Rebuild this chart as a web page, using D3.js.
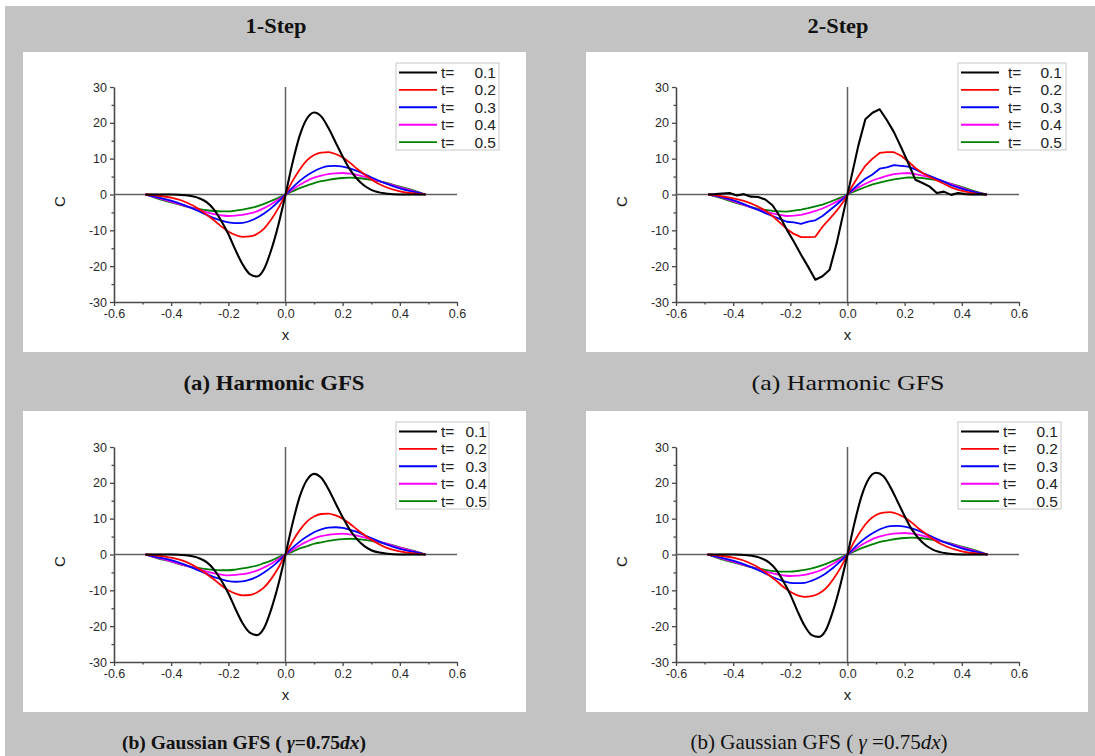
<!DOCTYPE html>
<html>
<head>
<meta charset="utf-8">
<script src="https://cdn.jsdelivr.net/npm/d3@7"></script>
<style>
  body { margin: 0; background: #ffffff; }
  svg { display: block; }
</style>
</head>
<body>
<svg id="fig" width="1095" height="756"></svg>
<script>
// ---- sample positions ----
// smooth profiles (1-step solutions and 2-step Gaussian)
const xSmooth = [-0.49, -0.45, -0.4, -0.35, -0.3, -0.275, -0.25, -0.225, -0.2, -0.175, -0.15, -0.125, -0.1, -0.075, -0.05, -0.025, 0,
                 0.025, 0.05, 0.075, 0.1, 0.125, 0.15, 0.175, 0.2, 0.225, 0.25, 0.275, 0.3, 0.35, 0.4, 0.45, 0.49];
// cell-centred grid of the 2-step harmonic run (dx = 0.025)
const xCells = [-0.4875, -0.4625, -0.4375, -0.4125, -0.3875, -0.3625, -0.3375, -0.3125, -0.2875, -0.2625,
                -0.2375, -0.2125, -0.1875, -0.1625, -0.1375, -0.1125, -0.0875, -0.0625, -0.0375, -0.0125,
                 0.0125, 0.0375, 0.0625, 0.0875, 0.1125, 0.1375, 0.1625, 0.1875, 0.2125, 0.2375,
                 0.2625, 0.2875, 0.3125, 0.3375, 0.3625, 0.3875, 0.4125, 0.4375, 0.4625, 0.4875];

// ---- (a) Harmonic GFS, 1-step ----
const harm1_t01 = [0, 0, 0, -0.2, -1.1, -2.2, -4.2, -7.3, -11.0, -15.5, -19.5, -22.2, -22.9, -20.8, -15.5, -8.5, 0,
                   9.0, 16.5, 21.2, 22.9, 21.8, 18.6, 14.6, 10.6, 7.0, 4.4, 2.5, 1.3, 0.3, 0, 0, 0];
const harm1_t02 = [0, -0.3, -0.9, -2.1, -4.2, -5.7, -7.2, -8.9, -10.3, -11.3, -11.8, -11.7, -11.0, -9.5, -7.0, -3.8, 0,
                   3.8, 7.0, 9.5, 11.0, 11.7, 11.8, 11.3, 10.3, 8.9, 7.2, 5.7, 4.2, 2.1, 0.9, 0.3, 0];
const harm1_t03 = [0, -0.7, -1.7, -3.1, -4.8, -5.7, -6.6, -7.3, -7.8, -8.0, -7.9, -7.4, -6.5, -5.3, -3.8, -2.0, 0,
                   2.0, 3.8, 5.3, 6.5, 7.4, 7.9, 8.0, 7.8, 7.3, 6.6, 5.7, 4.8, 3.1, 1.7, 0.7, 0];
const harm1_t04 = [0, -0.9, -2.0, -3.2, -4.4, -5.0, -5.5, -5.8, -6.0, -5.9, -5.7, -5.3, -4.7, -3.8, -2.7, -1.4, 0,
                   1.4, 2.7, 3.8, 4.7, 5.3, 5.7, 5.9, 6.0, 5.8, 5.5, 5.0, 4.4, 3.2, 2.0, 0.9, 0];
const harm1_t05 = [0, -1.1, -2.2, -3.3, -4.1, -4.4, -4.6, -4.7, -4.7, -4.5, -4.2, -3.8, -3.3, -2.6, -1.8, -0.9, 0,
                   0.9, 1.8, 2.5, 3.2, 3.7, 4.1, 4.4, 4.6, 4.7, 4.6, 4.4, 4.1, 3.3, 2.2, 1.1, 0];

// ---- (a) Harmonic GFS, 2-step ----
const harm2_t01 = [0, 0.1, 0.3, 0.4, -0.3, 0.1, -0.6, -0.7, -1.4, -3.0,
                   -6.0, -9.8, -13.2, -16.8, -20.2, -23.8, -22.8, -21.0, -13.5, -4.5,
                   4.5, 13.5, 21.0, 22.8, 23.8, 20.8, 17.4, 13.2, 8.8, 4.1,
                   3.2, 2.2, 0.4, 0.8, -0.1, 0.4, 0.1, 0.0, 0.1, 0];
const harm2_t02 = [0, -0.2, -0.5, -0.9, -1.3, -1.8, -2.5, -3.4, -4.5, -6.0,
                   -7.8, -9.6, -11.0, -11.9, -11.9, -11.8, -9.0, -6.8, -4.5, -1.8,
                   1.8, 5.0, 8.0, 10.0, 11.6, 11.8, 11.8, 10.8, 9.2, 7.4,
                   6.0, 4.9, 3.9, 3.0, 2.0, 1.3, 0.8, 0.4, 0.1, 0];
const harm2_t03 = [0, -0.3, -0.8, -1.3, -1.9, -2.7, -3.5, -4.3, -5.2, -6.0,
                   -6.8, -7.6, -7.8, -8.2, -7.6, -7.2, -6.0, -4.4, -2.8, -1.0,
                   1.0, 2.8, 4.4, 5.6, 7.2, 7.6, 8.2, 8.0, 7.8, 7.0,
                   6.0, 5.2, 4.4, 3.6, 2.6, 1.9, 1.3, 0.8, 0.3, 0];
const harm2_t04 = [0, -0.4, -0.9, -1.5, -2.2, -2.9, -3.6, -4.2, -4.8, -5.3,
                   -5.7, -6.0, -5.9, -5.7, -5.2, -4.6, -3.9, -3.0, -2.0, -0.8,
                   0.8, 2.0, 3.0, 3.9, 4.6, 5.2, 5.7, 5.9, 6.0, 5.7,
                   5.3, 4.8, 4.2, 3.6, 2.9, 2.2, 1.5, 0.9, 0.4, 0];
const harm2_t05 = [0, -0.5, -1.1, -1.8, -2.4, -3.0, -3.5, -4.0, -4.3, -4.6,
                   -4.7, -4.8, -4.5, -4.2, -3.8, -3.3, -2.8, -2.1, -1.3, -0.5,
                   0.5, 1.3, 2.1, 2.8, 3.3, 3.8, 4.2, 4.5, 4.8, 4.7,
                   4.6, 4.3, 4.0, 3.5, 3.0, 2.4, 1.8, 1.1, 0.5, 0];

// ---- (b) Gaussian GFS, 1-step ----
const gauss1_t01 = [0, 0, 0, -0.2, -1.1, -2.2, -4.2, -7.2, -10.8, -15.2, -19.2, -21.8, -22.5, -20.5, -15.3, -8.4, 0,
                    8.8, 16.2, 20.8, 22.5, 21.4, 18.3, 14.3, 10.4, 6.9, 4.3, 2.4, 1.2, 0.3, 0, 0, 0];
const gauss1_t02 = [0, -0.3, -0.9, -2.0, -4.1, -5.5, -7.0, -8.6, -10.0, -10.9, -11.4, -11.3, -10.6, -9.2, -6.8, -3.7, 0,
                    3.7, 6.8, 9.2, 10.6, 11.3, 11.4, 10.9, 10.0, 8.6, 7.0, 5.5, 4.1, 2.0, 0.9, 0.3, 0];
const gauss1_t03 = [0, -0.7, -1.6, -2.9, -4.6, -5.4, -6.3, -6.9, -7.4, -7.6, -7.5, -7.0, -6.2, -5.0, -3.6, -1.9, 0,
                    1.9, 3.6, 5.0, 6.2, 7.0, 7.5, 7.6, 7.4, 6.9, 6.3, 5.4, 4.6, 2.9, 1.6, 0.7, 0];
const gauss1_t04 = [0, -0.9, -1.9, -3.1, -4.2, -4.8, -5.3, -5.6, -5.8, -5.7, -5.5, -5.1, -4.5, -3.6, -2.6, -1.3, 0,
                    1.3, 2.6, 3.6, 4.5, 5.1, 5.5, 5.7, 5.8, 5.6, 5.3, 4.8, 4.2, 3.1, 1.9, 0.9, 0];
const gauss1_t05 = [0, -1.0, -2.0, -3.1, -3.8, -4.1, -4.3, -4.4, -4.4, -4.2, -3.9, -3.5, -3.1, -2.4, -1.7, -0.8, 0,
                    0.8, 1.7, 2.3, 3.0, 3.4, 3.8, 4.1, 4.3, 4.4, 4.3, 4.1, 3.8, 3.1, 2.0, 1.0, 0];

// ---- (b) Gaussian GFS, 2-step ----
const gauss2_t01 = [0, 0, 0, -0.2, -1.1, -2.2, -4.2, -7.4, -11.2, -15.8, -19.9, -22.5, -23.0, -21.0, -15.6, -8.5, 0,
                    9.0, 16.5, 21.2, 22.8, 21.9, 18.8, 14.8, 10.7, 7.0, 4.4, 2.5, 1.3, 0.3, 0, 0, 0];
const gauss2_t02 = [0, -0.3, -0.9, -2.1, -4.2, -5.7, -7.3, -9.0, -10.4, -11.4, -11.8, -11.6, -10.9, -9.4, -6.9, -3.8, 0,
                    3.8, 7.0, 9.5, 11.0, 11.7, 11.8, 11.3, 10.3, 8.9, 7.2, 5.7, 4.2, 2.1, 0.9, 0.3, 0];
const gauss2_t03 = [0, -0.7, -1.7, -3.1, -4.8, -5.8, -6.7, -7.4, -7.9, -8.0, -7.9, -7.3, -6.4, -5.2, -3.7, -1.9, 0,
                    2.0, 3.8, 5.3, 6.5, 7.4, 7.9, 8.0, 7.8, 7.3, 6.6, 5.7, 4.8, 3.1, 1.7, 0.7, 0];
const gauss2_t04 = [0, -0.9, -2.0, -3.2, -4.4, -5.0, -5.5, -5.8, -6.0, -5.9, -5.7, -5.2, -4.6, -3.7, -2.6, -1.4, 0,
                    1.4, 2.7, 3.8, 4.7, 5.3, 5.7, 5.9, 6.0, 5.8, 5.5, 5.0, 4.4, 3.2, 2.0, 0.9, 0];
const gauss2_t05 = [0, -1.1, -2.2, -3.3, -4.1, -4.5, -4.7, -4.8, -4.8, -4.6, -4.3, -3.9, -3.3, -2.6, -1.8, -0.9, 0,
                    0.9, 1.8, 2.5, 3.2, 3.7, 4.1, 4.4, 4.6, 4.7, 4.6, 4.4, 4.1, 3.3, 2.2, 1.1, 0];

// ---- labels, ticks, colours ----
const timeLabels = ["0.1", "0.2", "0.3", "0.4", "0.5"];
const seriesColors = ["#000000", "#ff0000", "#0000ff", "#ff00ff", "#008000"];
const xTicks = [-0.6, -0.4, -0.2, 0.0, 0.2, 0.4, 0.6];
const xMinorTicks = [-0.5, -0.3, -0.1, 0.1, 0.3, 0.5];
const yTicks = [-30, -20, -10, 0, 10, 20, 30];
const yMinorTicks = [-25, -15, -5, 5, 15, 25];
const columnTitles = ["1-Step", "2-Step"];
const xLabel = "x";
const yLabel = "C";

// ---- panel layout ----
const panels = [
  { box: [23, 52, 503, 300],  plot: [114, 87, 457, 302],  x: xSmooth, ys: [harm1_t01, harm1_t02, harm1_t03, harm1_t04, harm1_t05], smooth: true,
    legend: { right: 385, tx: 327, vx: 382 } },
  { box: [586, 52, 502, 300], plot: [676, 87, 1019, 302], x: xCells,  ys: [harm2_t01, harm2_t02, harm2_t03, harm2_t04, harm2_t05], smooth: false,
    legend: { right: 390, tx: 332, vx: 386 } },
  { box: [23, 411, 503, 301], plot: [114, 447, 457, 662], x: xSmooth, ys: [gauss1_t01, gauss1_t02, gauss1_t03, gauss1_t04, gauss1_t05], smooth: true,
    legend: { right: 375, tx: 327, vx: 373 } },
  { box: [586, 411, 502, 301], plot: [676, 447, 1019, 662], x: xSmooth, ys: [gauss2_t01, gauss2_t02, gauss2_t03, gauss2_t04, gauss2_t05], smooth: true,
    legend: { right: 385, tx: 327, vx: 382 } }
];

const svg = d3.select("#fig");
const SANS = "'Liberation Sans', Arial, sans-serif";
const SERIF = "'Liberation Serif', 'Times New Roman', serif";

// grey page with a thin white margin at top and left
svg.append("rect").attr("x", 0).attr("y", 0).attr("width", 1095).attr("height", 756).attr("fill", "#ffffff");
svg.append("rect").attr("x", 5).attr("y", 6).attr("width", 1090).attr("height", 750).attr("fill", "#c3c3c3");

panels.forEach(p => {
  const [bx, by, bw, bh] = p.box;
  const [px0, py0, px1, py1] = p.plot;
  svg.append("rect").attr("x", bx).attr("y", by).attr("width", bw).attr("height", bh).attr("fill", "#ffffff");

  const xs = d3.scaleLinear().domain([-0.6, 0.6]).range([px0, px1]);
  const ys = d3.scaleLinear().domain([-30, 30]).range([py1, py0]);
  const g = svg.append("g");

  // bottom axis
  const xAxis = d3.axisBottom(xs).tickValues(xTicks).tickSize(4).tickSizeOuter(0).tickPadding(3)
    .tickFormat(d => d.toFixed(1));
  g.append("g").attr("transform", `translate(0,${py1})`).call(xAxis);
  g.append("g").attr("transform", `translate(0,${py1})`)
    .call(d3.axisBottom(xs).tickValues(xMinorTicks).tickSize(2.5).tickSizeOuter(0).tickFormat(""))
    .select(".domain").remove();

  // left axis
  const yAxis = d3.axisLeft(ys).tickValues(yTicks).tickSize(4).tickSizeOuter(0).tickPadding(3)
    .tickFormat(d => String(d));
  g.append("g").attr("transform", `translate(${px0},0)`).call(yAxis);
  g.append("g").attr("transform", `translate(${px0},0)`)
    .call(d3.axisLeft(ys).tickValues(yMinorTicks).tickSize(2.5).tickSizeOuter(0).tickFormat(""))
    .select(".domain").remove();

  g.selectAll(".domain").attr("stroke", "#4a4a4a").attr("stroke-width", 1.6);
  g.selectAll(".tick line").attr("stroke", "#4a4a4a").attr("stroke-width", 1.3);
  g.selectAll(".tick text").attr("fill", "#2a2a2a").style("font-family", SANS).style("font-size", "12.5px");

  // zero lines
  g.append("line").attr("x1", xs(-0.6)).attr("x2", xs(0.6)).attr("y1", ys(0)).attr("y2", ys(0))
    .attr("stroke", "#606060").attr("stroke-width", 1.5);
  g.append("line").attr("x1", xs(0)).attr("x2", xs(0)).attr("y1", ys(-30)).attr("y2", ys(30))
    .attr("stroke", "#606060").attr("stroke-width", 1.5);

  // axis titles
  g.append("text").attr("x", xs(0)).attr("y", py1 + 38).attr("text-anchor", "middle")
    .style("font-family", SANS).style("font-size", "15px").attr("fill", "#222").text(xLabel);
  g.append("text").attr("transform", `translate(${px0 - 49},${ys(0) + 7}) rotate(-90)`).attr("text-anchor", "middle")
    .style("font-family", SANS).style("font-size", "15px").attr("fill", "#222").text(yLabel);

  // curves, drawn from t=0.5 up to t=0.1 so the sharp profile sits on top
  const line = d3.line()
    .x((d, i) => xs(p.x[i]))
    .y(d => ys(d))
    .curve(p.smooth ? d3.curveMonotoneX : d3.curveLinear);
  for (let k = p.ys.length - 1; k >= 0; k--) {
    g.append("path").datum(p.ys[k]).attr("d", line)
      .attr("fill", "none").attr("stroke", seriesColors[k])
      .attr("stroke-width", k === 0 ? 2.1 : 1.8).attr("stroke-linejoin", "round");
  }

  // legend
  const L = p.legend;
  const lx0 = px0 + 282, ly0 = by + 11, rowH = 17.4;
  g.append("rect").attr("x", lx0).attr("y", ly0).attr("width", L.right - 282).attr("height", 87)
    .attr("fill", "#ffffff").attr("stroke", "#c8c8c8").attr("stroke-width", 1);
  timeLabels.forEach((lab, k) => {
    const yy = ly0 + 9.5 + k * rowH;
    g.append("line").attr("x1", px0 + 285).attr("x2", px0 + 323).attr("y1", yy).attr("y2", yy)
      .attr("stroke", seriesColors[k]).attr("stroke-width", k === 0 ? 2.1 : 1.9);
    g.append("text").attr("x", px0 + L.tx).attr("y", yy + 5.5)
      .style("font-family", SANS).style("font-size", "15.5px").attr("fill", "#222").text("t=");
    g.append("text").attr("x", px0 + L.vx).attr("y", yy + 5.5).attr("text-anchor", "end")
      .style("font-family", SANS).style("font-size", "15.5px").attr("fill", "#222").text(lab);
  });
});

// column headings
[[276, columnTitles[0]], [838, columnTitles[1]]].forEach(([cx, txt]) => {
  svg.append("text").attr("x", cx).attr("y", 33).attr("text-anchor", "middle")
    .attr("textLength", 61).attr("lengthAdjust", "spacingAndGlyphs")
    .style("font-family", SERIF).style("font-size", "22px").style("font-weight", "bold")
    .attr("fill", "#111").text(txt);
});

// panel captions
function caption(cx, cy, bold, size, width, parts) {
  const t = svg.append("text").attr("x", cx).attr("y", cy).attr("text-anchor", "middle")
    .style("font-family", SERIF).style("font-size", size + "px")
    .style("font-weight", bold ? "bold" : "normal").attr("fill", "#111");
  if (width) t.attr("textLength", width).attr("lengthAdjust", "spacingAndGlyphs");
  parts.forEach(([s, italic]) => {
    t.append("tspan").style("font-style", italic ? "italic" : "normal").text(s);
  });
}
caption(274, 390, true, 22, 181, [["(a) Harmonic GFS", false]]);
caption(848, 390, false, 22, 193, [["(a) Harmonic GFS", false]]);
caption(244, 749, true, 19.5, null, [["(b) Gaussian GFS  ( ", false], ["γ", true], ["=0.75", false], ["dx", true], [")", false]]);
caption(819, 749, false, 21, null, [["(b) Gaussian GFS ( ", false], ["γ", true], [" =0.75", false], ["dx", true], [")", false]]);
</script>
</body>
</html>
